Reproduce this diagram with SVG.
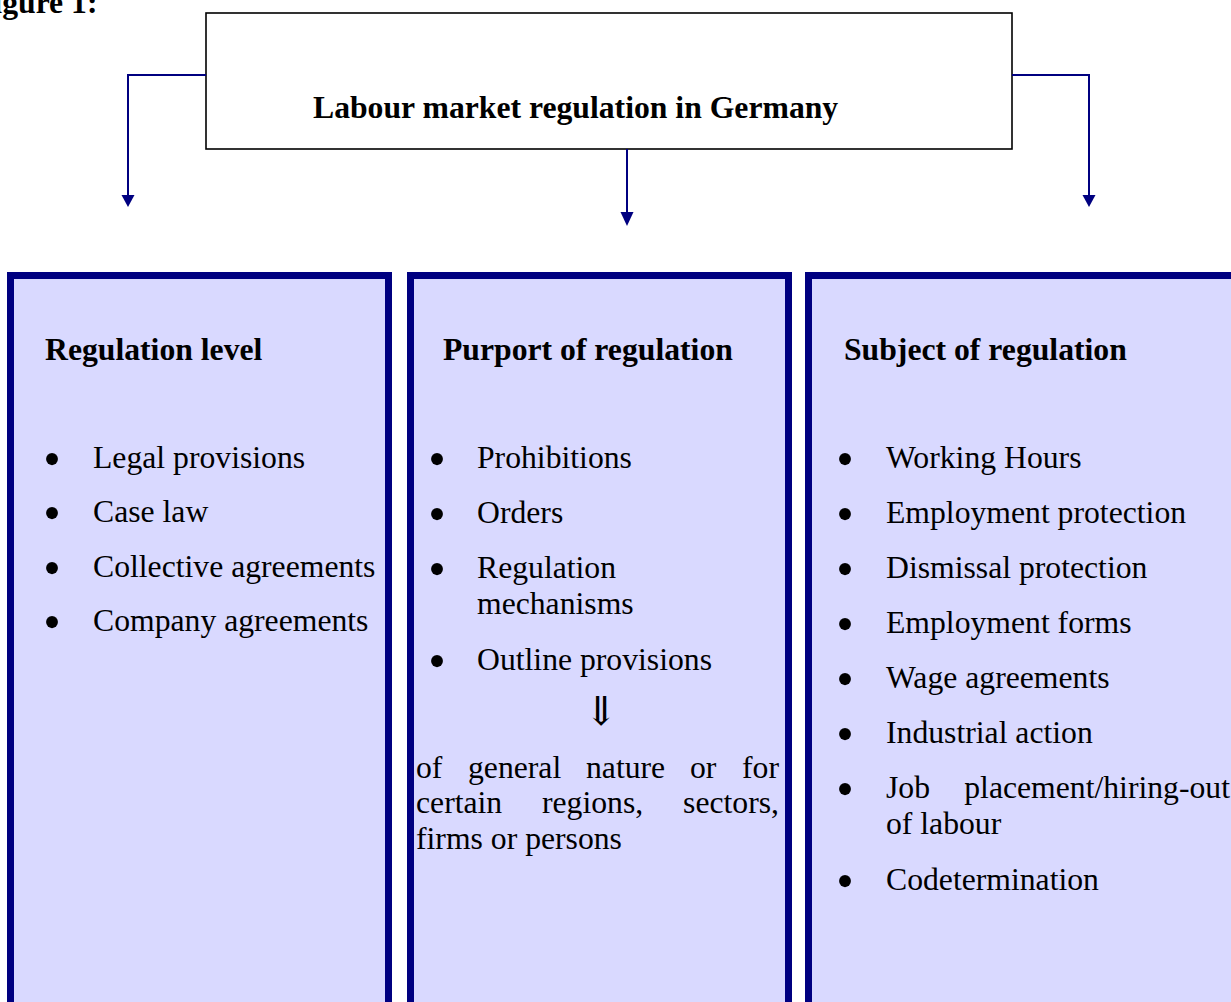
<svg xmlns="http://www.w3.org/2000/svg" width="1231" height="1002" viewBox="0 0 1231 1002">
  <style>
    text { font-family: "Liberation Serif", "Times New Roman", "DejaVu Serif", serif; font-size: 31.7px; fill: #000; }
    .b { font-weight: bold; }
    .bul { font-size: 50px; text-anchor: middle; }
    .arr { font-size: 40px; text-anchor: middle; }
    .panel { fill: #D9D9FF; stroke: #000080; stroke-width: 7; }
    .title { fill: #FFFFFF; stroke: #000000; stroke-width: 1.6; }
    .conn { fill: none; stroke: #000080; stroke-width: 2; }
    .head { fill: #000080; }
  </style>

  <!-- caption, partly outside the page -->
  <text class="b" x="-26" y="13">Figure 1:</text>

  <!-- top node -->
  <g id="root">
    <rect class="title" x="206" y="13" width="806" height="136"/>
    <text class="b" x="313" y="118">Labour market regulation in Germany</text>
  </g>

  <!-- connectors -->
  <g id="connectors">
    <path class="conn" d="M206,75 H128 V197"/>
    <polygon class="head" points="121.5,195 134.5,195 128,207"/>
    <path class="conn" d="M627,149 V214"/>
    <polygon class="head" points="620.5,212 633.5,212 627,226"/>
    <path class="conn" d="M1012,75 H1089 V197"/>
    <polygon class="head" points="1082.5,195 1095.5,195 1089,207"/>
  </g>

  <!-- left column -->
  <g id="regulation-level">
    <rect class="panel" x="10.5" y="275.5" width="378" height="760"/>
    <text class="b" x="45" y="360">Regulation level</text>
    <text class="bul" x="52" y="476">•</text><text x="93" y="468">Legal provisions</text>
    <text class="bul" x="52" y="530">•</text><text x="93" y="522">Case law</text>
    <text class="bul" x="52" y="585">•</text><text x="93" y="577">Collective agreements</text>
    <text class="bul" x="52" y="639">•</text><text x="93" y="631">Company agreements</text>
  </g>

  <!-- middle column -->
  <g id="purport-of-regulation">
    <rect class="panel" x="410.5" y="275.5" width="378" height="760"/>
    <text class="b" x="443" y="360">Purport of regulation</text>
    <text class="bul" x="437" y="476">•</text><text x="477" y="468">Prohibitions</text>
    <text class="bul" x="437" y="531">•</text><text x="477" y="523">Orders</text>
    <text class="bul" x="437" y="586">•</text><text x="477" y="578">Regulation</text>
    <text x="477" y="614">mechanisms</text>
    <text class="bul" x="437" y="678">•</text><text x="477" y="670">Outline provisions</text>
    <text class="arr" x="601" y="725">⇓</text>
    <text y="778"><tspan x="416">of</tspan><tspan x="468">general</tspan><tspan x="586">nature</tspan><tspan x="690">or</tspan><tspan x="779" text-anchor="end">for</tspan></text>
    <text y="813"><tspan x="416">certain</tspan><tspan x="542">regions,</tspan><tspan x="779" text-anchor="end">sectors,</tspan></text>
    <text x="416" y="849">firms or persons</text>
  </g>

  <!-- right column -->
  <g id="subject-of-regulation">
    <rect class="panel" x="808.5" y="275.5" width="500" height="760"/>
    <text class="b" x="844" y="360">Subject of regulation</text>
    <text class="bul" x="845" y="476">•</text><text x="886" y="468">Working Hours</text>
    <text class="bul" x="845" y="531">•</text><text x="886" y="523">Employment protection</text>
    <text class="bul" x="845" y="586">•</text><text x="886" y="578">Dismissal protection</text>
    <text class="bul" x="845" y="641">•</text><text x="886" y="633">Employment forms</text>
    <text class="bul" x="845" y="696">•</text><text x="886" y="688">Wage agreements</text>
    <text class="bul" x="845" y="751">•</text><text x="886" y="743">Industrial action</text>
    <text class="bul" x="845" y="806">•</text><text y="798"><tspan x="886">Job</tspan><tspan x="1230" text-anchor="end">placement/hiring-out</tspan></text>
    <text x="886" y="834">of labour</text>
    <text class="bul" x="845" y="898">•</text><text x="886" y="890">Codetermination</text>
  </g>
</svg>
